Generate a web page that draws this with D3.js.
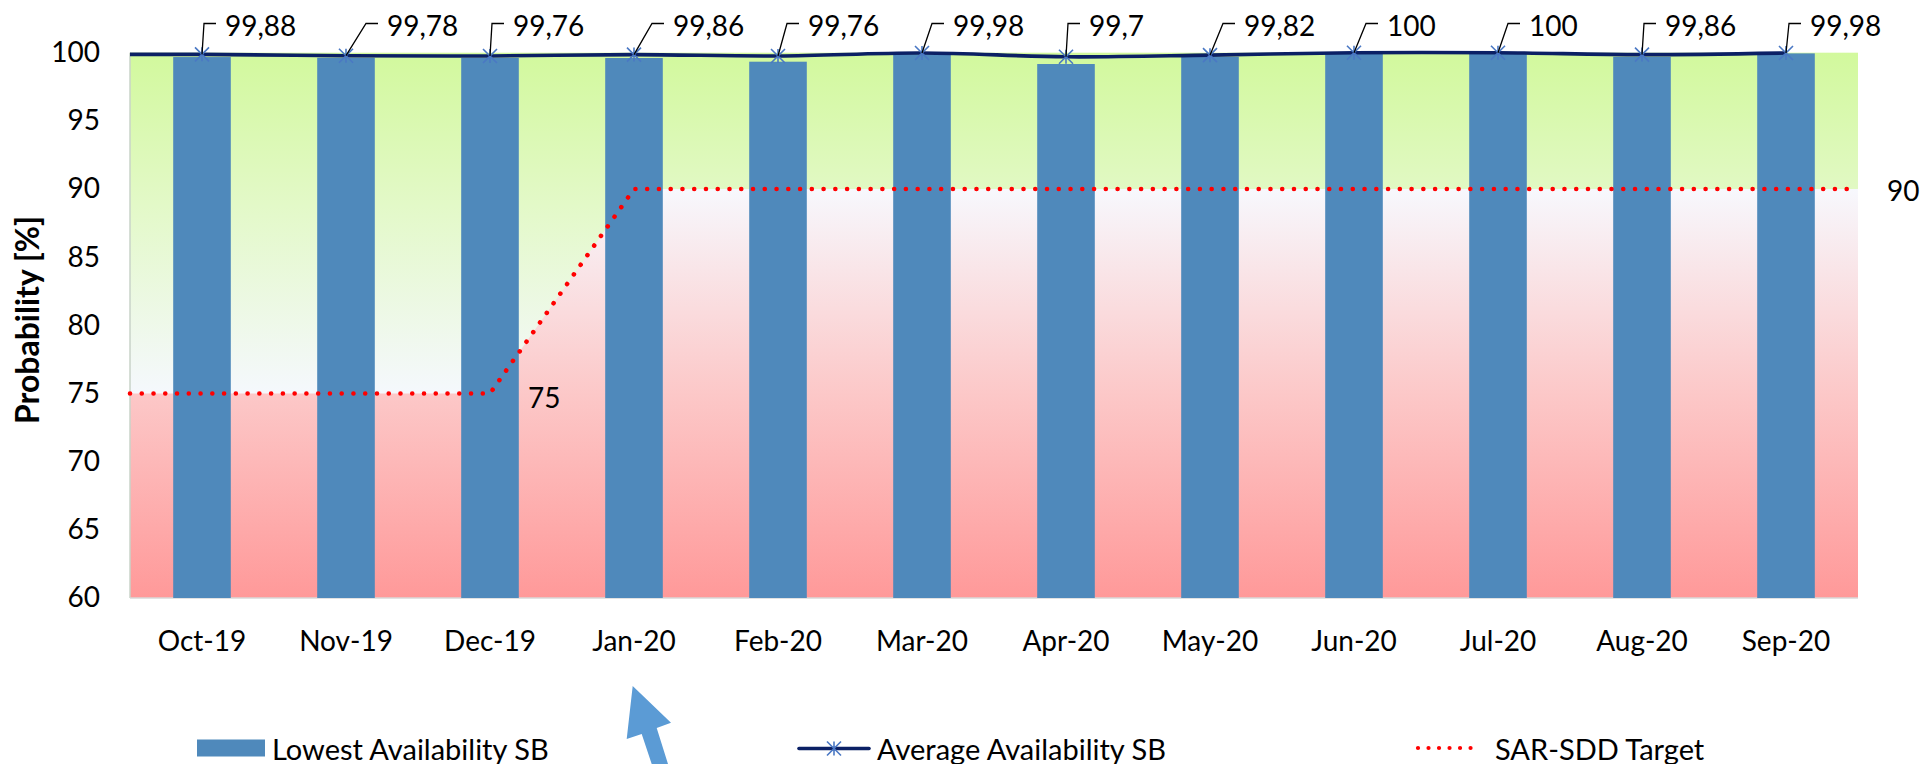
<!DOCTYPE html>
<html>
<head>
<meta charset="utf-8">
<script src="https://cdn.jsdelivr.net/npm/d3@7/dist/d3.min.js"></script>
<style>
  html, body { margin: 0; padding: 0; background: #ffffff; }
  svg { display: block; }
  text { font-family: Lato, "Noto Sans", sans-serif; fill: #000; }
</style>
</head>
<body>
<svg id="chart" width="1924" height="764"></svg>
<script>
// ---- data ----
const categories = ["Oct-19","Nov-19","Dec-19","Jan-20","Feb-20","Mar-20","Apr-20","May-20","Jun-20","Jul-20","Aug-20","Sep-20"];
const lowestAvailability = [99.68, 99.63, 99.62, 99.61, 99.34, 99.88, 99.17, 99.7, 99.95, 99.95, 99.7, 99.95];
const averageAvailability = [99.88, 99.78, 99.76, 99.86, 99.76, 99.98, 99.7, 99.82, 100, 100, 99.86, 99.98];
const averageLabels = ["99,88","99,78","99,76","99,86","99,76","99,98","99,7","99,82","100","100","99,86","99,98"];
const sarSddTarget = [75, 75, 75, 90, 90, 90, 90, 90, 90, 90, 90, 90];
const yTicks = [60, 65, 70, 75, 80, 85, 90, 95, 100];
const seriesNames = ["Lowest Availability SB", "Average Availability SB", "SAR-SDD Target"];

// label leader horizontal nudges (layout only)
const leaderDx = [2, 20, 2, 18, 9, 10, 2, 13, 12, 10, 2, 3];

(function () {
// ---- layout ----
const svg = d3.select("#chart");
const pLeft = 130, pRight = 1858, pTop = 52.7, pBottom = 598;
const FONT = 28;
const LFONT = 29;
const barColor = "#4f89bb";
const navy = "#0b2065";
const markerColor = "#4a78c4";

const x = d3.scaleBand().domain(categories).range([pLeft, pRight]).paddingInner(0.6).paddingOuter(0.3);
const cx = c => x(c) + x.bandwidth() / 2;
const y = d3.scaleLinear().domain([60, 100]).range([pBottom, pTop]);

const defs = svg.append("defs");
const gGreen = defs.append("linearGradient").attr("id", "gGreen")
  .attr("gradientUnits", "userSpaceOnUse").attr("x1", 0).attr("x2", 0)
  .attr("y1", y(100)).attr("y2", y(75));
gGreen.append("stop").attr("offset", 0).attr("stop-color", "#d2f99d");
gGreen.append("stop").attr("offset", 0.45).attr("stop-color", "#e3f9c8");
gGreen.append("stop").attr("offset", 1).attr("stop-color", "#f5f8fd");

const gRed = defs.append("linearGradient").attr("id", "gRed")
  .attr("gradientUnits", "userSpaceOnUse").attr("x1", 0).attr("x2", 0)
  .attr("y1", y(90)).attr("y2", y(60));
gRed.append("stop").attr("offset", 0).attr("stop-color", "#f7f8fd");
gRed.append("stop").attr("offset", 0.5).attr("stop-color", "#fcc8c8");
gRed.append("stop").attr("offset", 1).attr("stop-color", "#ff9999");

// plot background (green)
svg.append("rect").attr("x", pLeft).attr("y", y(100)).attr("width", pRight - pLeft).attr("height", y(60) - y(100))
  .attr("fill", "url(#gGreen)");

// target points extended to plot edges
const targetPts = [[pLeft, sarSddTarget[0]]]
  .concat(categories.map((c, i) => [cx(c), sarSddTarget[i]]))
  .concat([[pRight, sarSddTarget[sarSddTarget.length - 1]]]);

// red area below target
const area = d3.area().x(d => d[0]).y0(y(60)).y1(d => y(d[1]));
svg.append("path").datum(targetPts).attr("d", area).attr("fill", "url(#gRed)");

// axes lines
svg.append("line").attr("x1", pLeft).attr("x2", pLeft).attr("y1", y(100)).attr("y2", y(60))
  .attr("stroke", "#c9d3c9").attr("stroke-width", 1.5);
svg.append("line").attr("x1", pLeft).attr("x2", pRight).attr("y1", y(60)).attr("y2", y(60))
  .attr("stroke", "#d9d9d9").attr("stroke-width", 1.5);

// bars
svg.append("g").selectAll("rect").data(lowestAvailability).join("rect")
  .attr("x", (d, i) => x(categories[i]))
  .attr("y", d => y(d))
  .attr("width", x.bandwidth())
  .attr("height", d => y(60) - y(d))
  .attr("fill", barColor);

// target dotted line
const line = d3.line().x(d => d[0]).y(d => y(d[1]));
svg.append("path").datum(targetPts).attr("d", line)
  .attr("fill", "none").attr("stroke", "#ff0000").attr("stroke-width", 4.6)
  .attr("stroke-linecap", "round").attr("stroke-dasharray", "0.01 11.75");

// target labels
svg.append("text").attr("x", cx(categories[2]) + 38).attr("y", y(sarSddTarget[2]) + 3)
  .attr("dominant-baseline", "central").attr("font-size", FONT).text(sarSddTarget[2]);
svg.append("text").attr("x", pRight + 29).attr("y", y(sarSddTarget[11]) + 1)
  .attr("dominant-baseline", "central").attr("font-size", FONT).text(sarSddTarget[11]);

// average line (smoothed)
const avgPts = [[pLeft, averageAvailability[0]]]
  .concat(categories.map((c, i) => [cx(c), averageAvailability[i]]));
svg.append("path").datum(avgPts)
  .attr("d", d3.line().x(d => d[0]).y(d => y(d[1])).curve(d3.curveCatmullRom.alpha(0)))
  .attr("fill", "none").attr("stroke", navy).attr("stroke-width", 3.6);

// markers (asterisk)
function star(g, px, py) {
  const r = 7;
  g.append("path")
    .attr("d", `M${px - r},${py - r}L${px + r},${py + r}M${px - r},${py + r}L${px + r},${py - r}M${px},${py - r}L${px},${py + r}`)
    .attr("stroke", markerColor).attr("stroke-width", 1.6).attr("fill", "none");
}
const mk = svg.append("g");
categories.forEach((c, i) => star(mk, cx(c), y(averageAvailability[i])));

// data labels with leaders
const lab = svg.append("g");
categories.forEach((c, i) => {
  const px = cx(c), py = y(averageAvailability[i]);
  const hx = px + leaderDx[i], hy = 23.5;
  lab.append("path").attr("d", `M${px},${py}L${hx},${hy}L${hx + 12},${hy}`)
    .attr("fill", "none").attr("stroke", "#000").attr("stroke-width", 1.3);
  lab.append("text").attr("x", hx + 21).attr("y", hy + 1.5)
    .attr("dominant-baseline", "central").attr("font-size", FONT).text(averageLabels[i]);
});

// y axis
const yAxis = svg.append("g").attr("transform", `translate(${pLeft},0)`)
  .call(d3.axisLeft(y).tickValues(yTicks).tickSize(0).tickPadding(30));
yAxis.select(".domain").remove();
yAxis.selectAll("text").attr("font-size", FONT).attr("font-family", "Lato, 'Noto Sans', sans-serif").attr("fill", "#000");

// x axis
const xAxis = svg.append("g").attr("transform", `translate(0,${pBottom})`)
  .call(d3.axisBottom(x).tickSize(0).tickPadding(33));
xAxis.select(".domain").remove();
xAxis.selectAll("text").attr("font-size", FONT).attr("font-family", "Lato, 'Noto Sans', sans-serif").attr("fill", "#000");

// y title
svg.append("text").attr("transform", "translate(26,320) rotate(-90)")
  .attr("text-anchor", "middle").attr("dominant-baseline", "central")
  .attr("font-size", 32).attr("font-weight", "bold").text("Probability [%]");

// legend
const ly = 748;
svg.append("rect").attr("x", 197).attr("y", 739.5).attr("width", 68).attr("height", 17).attr("fill", barColor);
svg.append("text").attr("x", 272).attr("y", ly).attr("dominant-baseline", "central").attr("font-size", LFONT).text(seriesNames[0]);

svg.append("line").attr("x1", 799).attr("x2", 869).attr("y1", ly + 0.5).attr("y2", ly + 0.5)
  .attr("stroke", navy).attr("stroke-width", 3.6).attr("stroke-linecap", "round");
star(svg, 834, ly + 0.5);
svg.append("text").attr("x", 877).attr("y", ly).attr("dominant-baseline", "central").attr("font-size", LFONT).text(seriesNames[1]);

svg.append("line").attr("x1", 1418).attr("x2", 1480).attr("y1", ly).attr("y2", ly)
  .attr("stroke", "#ff0000").attr("stroke-width", 4.2).attr("stroke-linecap", "round").attr("stroke-dasharray", "0.01 10.5");
svg.append("text").attr("x", 1495).attr("y", ly).attr("dominant-baseline", "central").attr("font-size", LFONT).text(seriesNames[2]);

// annotation arrow
svg.append("path")
  .attr("d", "M632.7,686L671,722.7L656.7,728L668,764L651.7,764L641.7,734L626.7,739Z")
  .attr("fill", "#5b9bd5");
})();
</script>
</body>
</html>
